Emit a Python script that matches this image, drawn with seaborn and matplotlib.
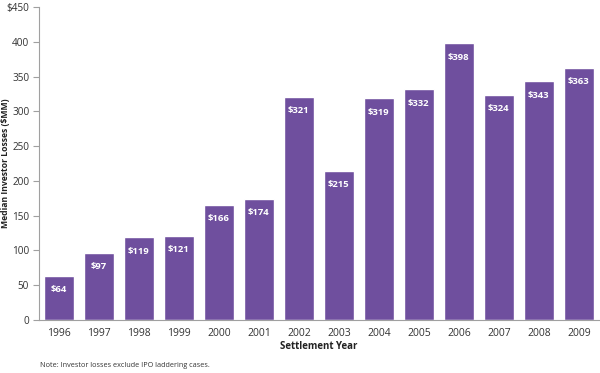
import matplotlib
matplotlib.use("Agg")
import matplotlib.pyplot as plt
import seaborn as sns
import pandas as pd
import numpy as np

# Chart data
years = ["1996", "1997", "1998", "1999", "2000", "2001", "2002",
         "2003", "2004", "2005", "2006", "2007", "2008", "2009"]
losses = [64, 97, 119, 121, 166, 174, 321, 215, 319, 332, 398, 324, 343, 363]
y_ticks = [0, 50, 100, 150, 200, 250, 300, 350, 400, 450]
y_tick_labels = ["0", "50", "100", "150", "200", "250", "300", "350", "400", "$450"]

df = pd.DataFrame({"year": years, "loss": losses})

sns.set_style("white")
plt.rcParams["font.family"] = ["Open Sans", "DejaVu Sans"]

bar_colour = "#6F4F9E"
axis_grey = "#A0A0A0"

fig = plt.figure(figsize=(6, 3.73), dpi=100)
ax = fig.add_axes([0.065, 0.142, 0.933, 0.839])

sns.barplot(data=df, x="year", y="loss", color=bar_colour, width=0.76,
            saturation=1, ax=ax)

# white value labels just inside the top of each bar
for i, v in enumerate(losses):
    ax.annotate(f"${v}", xy=(i, v), xytext=(0, -10), textcoords="offset points",
                ha="center", va="center", color="white", fontsize=6.8,
                fontweight="bold")

ax.set_ylim(0, 450)
ax.set_xlim(-0.5, len(years) - 0.5)
ax.set_yticks(y_ticks)
ax.set_yticklabels(y_tick_labels)

# tick marks between the bars on the x axis
ax.set_xticks(np.arange(-0.5, len(years)), minor=True)
ax.tick_params(axis="x", which="major", length=0, pad=6, labelsize=7.5, colors="#333333")
ax.tick_params(axis="x", which="minor", length=4, color=axis_grey, width=0.8)
ax.tick_params(axis="y", length=4, color=axis_grey, width=0.8, labelsize=7.2,
               colors="#333333", left=True, pad=3)

sns.despine(ax=ax, top=True, right=True)
ax.spines["left"].set_color(axis_grey)
ax.spines["bottom"].set_color(axis_grey)
ax.spines["left"].set_linewidth(0.8)
ax.spines["bottom"].set_linewidth(0.8)

ax.set_xlabel("Settlement Year", fontsize=7, fontweight="bold", color="#222222", labelpad=1)
ax.set_ylabel("")
fig.text(6 / 600, 0.5615, "Median Investor Losses ($MM)", rotation=90,
         ha="center", va="center", fontsize=6.2, fontweight="bold", color="#222222")

fig.text(0.066, 0.015, "Note: Investor losses exclude IPO laddering cases.",
         fontsize=5.2, color="#333333")

fig.savefig("out.png", dpi=100)
